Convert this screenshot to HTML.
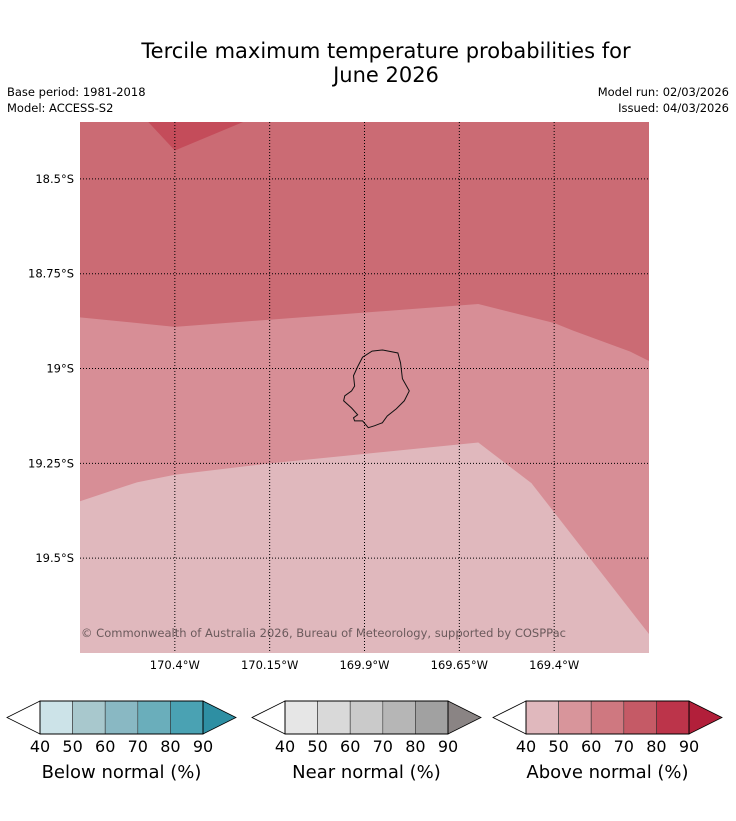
<!DOCTYPE html>
<html><head><meta charset="utf-8"><style>
body{margin:0;background:#fff;font-family:"Liberation Sans","DejaVu Sans",sans-serif;}
svg text{font-family:"DejaVu Sans","Liberation Sans",sans-serif;}
</style></head><body>
<svg id="chart" width="736" height="816" xmlns="http://www.w3.org/2000/svg">
<text x="386" y="58" font-size="21" text-anchor="middle">Tercile maximum temperature probabilities for</text>
<text x="386" y="82" font-size="21" text-anchor="middle">June 2026</text>
<text x="7" y="96" font-size="11.5">Base period: 1981-2018</text>
<text x="7" y="112" font-size="11.5">Model: ACCESS-S2</text>
<text x="729" y="96" font-size="11.5" text-anchor="end">Model run: 02/03/2026</text>
<text x="729" y="112" font-size="11.5" text-anchor="end">Issued: 04/03/2026</text>
<g id="map"></g>
<g id="bars"></g>
</svg>
<script>
const lonTicks=[-170.4,-170.15,-169.9,-169.65,-169.4];
const lonLabels=["170.4°W","170.15°W","169.9°W","169.65°W","169.4°W"];
const latTicks=[-18.5,-18.75,-19,-19.25,-19.5];
const latLabels=["18.5°S","18.75°S","19°S","19.25°S","19.5°S"];
const lonMin=-170.65, lonMax=-169.15, latMax=-18.35, latMin=-19.75;
const darkBoundaryLon=[-170.65,-170.4,-169.6,-169.4,-169.35,-169.2,-169.15];
const darkBoundaryLat=[-18.865,-18.89,-18.83,-18.88,-18.9,-18.955,-18.98];
const lightBoundaryLon=[-170.65,-170.5,-170.4,-170.15,-169.9,-169.6,-169.46,-169.15];
const lightBoundaryLat=[-19.35,-19.3,-19.28,-19.25,-19.225,-19.195,-19.302,-19.7];
const peakLon=[-170.47,-170.4,-170.22];
const peakLat=[-18.35,-18.425,-18.35];
const islandLon=[-169.905,-169.88,-169.852,-169.812,-169.805,-169.8,-169.782,-169.795,-169.816,-169.84,-169.853,-169.874,-169.89,-169.905,-169.926,-169.929,-169.918,-169.934,-169.955,-169.952,-169.934,-169.926,-169.929,-169.918];
const islandLat=[-18.97,-18.954,-18.951,-18.959,-18.985,-19.027,-19.059,-19.085,-19.106,-19.125,-19.143,-19.151,-19.156,-19.138,-19.138,-19.13,-19.122,-19.104,-19.085,-19.072,-19.059,-19.046,-19.019,-18.995];
const X=l=>80+(l-lonMin)/(lonMax-lonMin)*569;
const Y=l=>122+(latMax-l)/(latMax-latMin)*531;
const NS="http://www.w3.org/2000/svg";
function mk(tag,attrs,parent){const e=document.createElementNS(NS,tag);for(const k in attrs)e.setAttribute(k,attrs[k]);parent.appendChild(e);return e;}
const map=document.getElementById('map');
let r=mk('rect',{x:80,y:122,width:569,height:531,fill:'#cb6b74'},map);


let pts=darkBoundaryLon.map((l,i)=>X(l)+','+Y(darkBoundaryLat[i])).join(' ')+' 649,653 80,653';
let p=mk('polygon',{points:pts,fill:'#d78e96'},map);


pts=lightBoundaryLon.map((l,i)=>X(l)+','+Y(lightBoundaryLat[i])).join(' ')+' 649,653 80,653';
p=mk('polygon',{points:pts,fill:'#e0b8bd'},map);


pts=peakLon.map((l,i)=>X(l)+','+Y(peakLat[i])).join(' ');
p=mk('polygon',{points:pts,fill:'#c44c5a'},map);


pts=islandLon.map((l,i)=>X(l)+','+Y(islandLat[i])).join(' ');
p=mk('polygon',{points:pts,fill:'none',stroke:'#111','stroke-width':1},map);


lonTicks.forEach((l,i)=>{const x=X(l);
 let g=mk('line',{x1:x,x2:x,y1:122,y2:653,stroke:'#000','stroke-width':1,'stroke-dasharray':'1,2'},map);
 
 
 let t=mk('text',{x:x,y:669,'font-size':11.5,'text-anchor':'middle'},map);t.textContent=lonLabels[i];
 
 });
latTicks.forEach((l,i)=>{const y=Y(l);
 let g=mk('line',{x1:80,x2:649,y1:y,y2:y,stroke:'#000','stroke-width':1,'stroke-dasharray':'1,2'},map);
 
 
 let t=mk('text',{x:74,y:y+4,'font-size':11.5,'text-anchor':'end'},map);t.textContent=latLabels[i];
 
 });
let c=mk('text',{x:81,y:637,'font-size':11.5,fill:'#6b5a5c',textLength:485},map);c.textContent='© Commonwealth of Australia 2026, Bureau of Meteorology, supported by COSPPac';


const barStarts=[7,252,493];
const barTitles=["Below normal (%)","Near normal (%)","Above normal (%)"];
const barColors=[["#cce3e8","#a8c8cd","#89b8c3","#6aaebb","#4aa2b3","#2e8fa3"],["#e6e6e6","#d9d9d9","#cacaca","#b6b6b6","#a1a1a1","#8a8484"],["#e0b8bd","#d8959b","#cf7880","#c55a66","#bc344a","#b21f3a"]];
const tickVals=[40,50,60,70,80,90];
const bars=document.getElementById('bars');
barStarts.forEach((x0,b)=>{
 const g=mk('g',{},bars);
 
 
 const a=x0+33,w=32.6,y0=701,y1=734,ym=717.5;
 mk('polygon',{points:`${x0},${ym} ${a},${y0} ${a},${y1}`,fill:'#fff',stroke:'#000','stroke-width':0.8},g);
 for(let i=0;i<5;i++)mk('rect',{x:a+i*w,y:y0,width:w,height:33,fill:barColors[b][i],stroke:'#333','stroke-width':0.6},g);
 const e=a+5*w;
 mk('polygon',{points:`${e},${y0} ${e+33},${ym} ${e},${y1}`,fill:barColors[b][5],stroke:'#000','stroke-width':0.8},g);
 mk('rect',{x:a,y:y0,width:5*w,height:33,fill:'none',stroke:'#000','stroke-width':1},g);
 tickVals.forEach((v,i)=>{const t=mk('text',{x:a+i*w,y:752,'font-size':16,'text-anchor':'middle'},g);t.textContent=v;});
 const t=mk('text',{x:a+2.5*w,y:778,'font-size':18,'text-anchor':'middle'},g);t.textContent=barTitles[b];
 
 
});
</script>
</body></html>
